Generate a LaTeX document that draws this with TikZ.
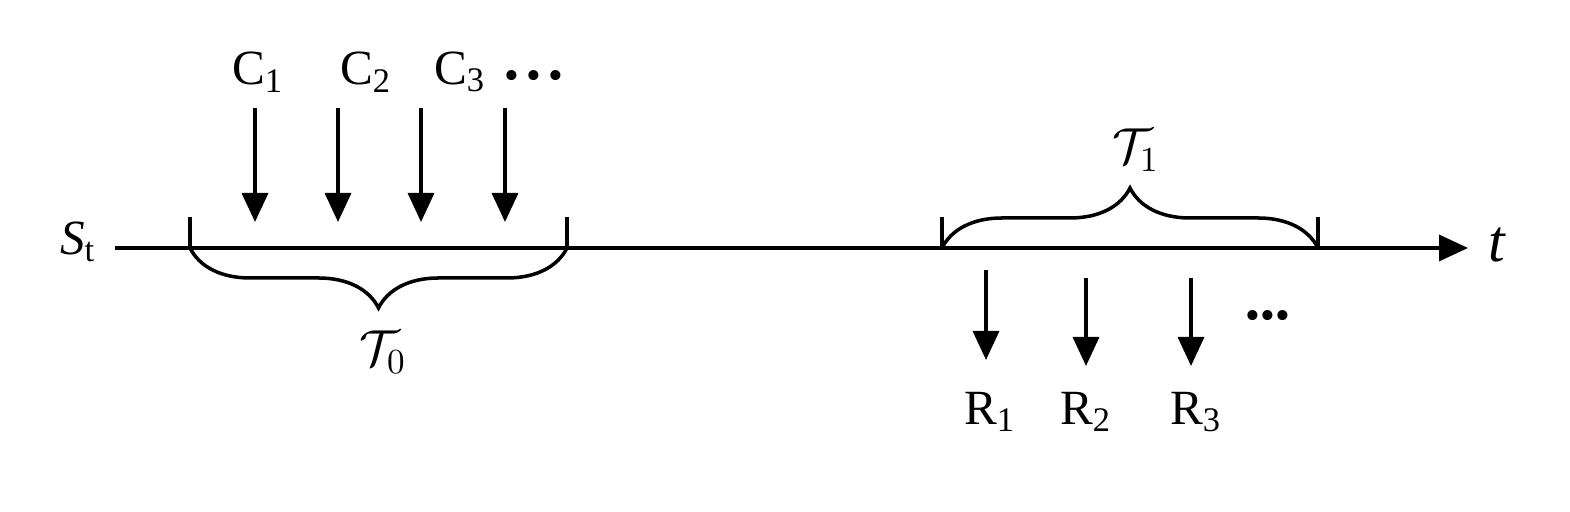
\documentclass[tikz,border=0pt]{standalone}
\usepackage{fontspec}
\setmainfont{Liberation Serif}
\usepackage{tikz}
\usetikzlibrary{arrows.meta, positioning, decorations.pathreplacing}
\tikzstyle{arrow} = [-{Triangle[length=2.9mm,width=2.6mm]}, line width=1pt]
\tikzstyle{tickmark} = [line width=1pt]
\tikzstyle{brace} = [decorate, decoration={brace, amplitude=6mm}, line width=1pt]
\tikzstyle{label} = [font=\fontsize{14}{16}\selectfont, inner sep=1pt]
\tikzstyle{period} = [font=\fontsize{14}{16}\selectfont, inner sep=1pt]
\tikzstyle{dots} = [font=\fontsize{12}{14}\selectfont, inner sep=1pt]

\begin{document}
\begin{tikzpicture}
  \useasboundingbox (0,0) rectangle (15.70,5.12);

  % Time axis
  \node[label] (st) at (0.78, 2.70) {\textit{S}\textsubscript{t}};
  \node[font=\fontsize{17}{20}\selectfont, inner sep=1pt] (t) at (14.97, 2.67) {\textit{t}};
  \coordinate (axstart) at (1.15, 2.64);
  \coordinate (axend) at (14.68, 2.64);
  \draw[arrow] (axstart) -- (axend);

  % Interval ticks
  \coordinate (a0) at (1.90, 2.64);
  \coordinate (b0) at (5.67, 2.64);
  \coordinate (a1) at (9.42, 2.64);
  \coordinate (b1) at (13.18, 2.64);
  \draw[tickmark] (a0) -- ++(0, 0.31);
  \draw[tickmark] (b0) -- ++(0, 0.31);
  \draw[tickmark] (a1) -- ++(0, 0.31);
  \draw[tickmark] (b1) -- ++(0, 0.31);

  % Braces
  \draw[brace] (b0) -- (a0);
  \draw[brace] (a1) -- (b1);
  \node[period] (t0) at (3.83, 1.60) {$\mathcal{T}_0$};
  \node[period] (t1) at (11.36, 3.62) {$\mathcal{T}_1$};

  % Incoming C arrows
  \node[label] (c1) at (2.58, 4.40) {C\textsubscript{1}};
  \node[label] (c2) at (3.66, 4.40) {C\textsubscript{2}};
  \node[label] (c3) at (4.60, 4.40) {C\textsubscript{3}};
  \node[dots] (cdots) at (5.34, 4.32) {\textbullet\,\textbullet\,\textbullet};
  \coordinate (c1top) at (2.55, 4.04);
  \coordinate (c2top) at (3.38, 4.04);
  \coordinate (c3top) at (4.21, 4.04);
  \coordinate (c4top) at (5.05, 4.04);
  \coordinate (c1bot) at (2.55, 2.90);
  \coordinate (c2bot) at (3.38, 2.90);
  \coordinate (c3bot) at (4.21, 2.90);
  \coordinate (c4bot) at (5.05, 2.90);
  \draw[arrow] (c1top) -- (c1bot);
  \draw[arrow] (c2top) -- (c2bot);
  \draw[arrow] (c3top) -- (c3bot);
  \draw[arrow] (c4top) -- (c4bot);

  % Outgoing R arrows
  \coordinate (r1top) at (9.86, 2.42);
  \coordinate (r2top) at (10.86, 2.34);
  \coordinate (r3top) at (11.91, 2.34);
  \coordinate (r1bot) at (9.86, 1.52);
  \coordinate (r2bot) at (10.86, 1.46);
  \coordinate (r3bot) at (11.91, 1.46);
  \draw[arrow] (r1top) -- (r1bot);
  \draw[arrow] (r2top) -- (r2bot);
  \draw[arrow] (r3top) -- (r3bot);
  \node[label] (r1) at (9.90, 1.00) {R\textsubscript{1}};
  \node[label] (r2) at (10.86, 1.00) {R\textsubscript{2}};
  \node[label] (r3) at (11.96, 1.00) {R\textsubscript{3}};
  \node[dots] (rdots) at (12.68, 1.92) {\textbullet\textbullet\textbullet};

\end{tikzpicture}
\end{document}
